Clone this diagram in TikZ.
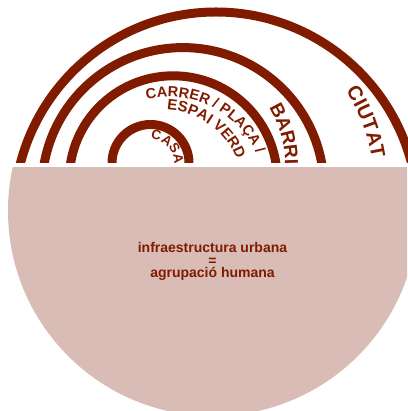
\documentclass[tikz,border=0pt]{standalone}
\usepackage{fontspec}
\setmainfont{Liberation Sans}
\usetikzlibrary{decorations.text}
\definecolor{brick}{RGB}{128,27,0}
\definecolor{rose}{RGB}{217,188,182}
\newcommand{\arcfont}[1]{\fontsize{#1}{#1}\selectfont\bfseries\color{brick}}
\begin{document}
\begin{tikzpicture}[
    x = 1pt, y = 1pt,
    ring/.style     = {draw=brick, line width=9pt},
    ringtext/.style = {decorate, decoration={text along path, text align=center, text={#1}}}
  ]
\useasboundingbox (0,0) rectangle (407,411);
% centres of the rings
\coordinate (cdisc)   at (213,200);
\coordinate (cciutat) at (216,197);
\coordinate (cbarri)  at (183,222.4);
\coordinate (ccarrer) at (173.25,231.2);
\coordinate (ccasa)   at (150.5,248);
% centres of the labels
\coordinate (tciutat) at (200,225);
\coordinate (tbarri)  at (171.3,244.8);
\coordinate (tcarrer) at (168.5,217.9);
\coordinate (tespai)  at (163,221.6);
% lower disc
\begin{scope}
  \clip (0,0) rectangle (407,243);
  \fill[rose] (cdisc) circle[radius=205pt];
\end{scope}
% rings
\begin{scope}
  \clip (0,248) rectangle (420,411);
  \draw[ring] (cciutat) ++(0:202pt) arc[start angle=0, end angle=180, radius=202pt];
  \draw[ring] (cbarri) ++(0:141pt) arc[start angle=0, end angle=180, radius=141pt];
  \draw[ring] (ccarrer) ++(0:104pt) arc[start angle=0, end angle=180, radius=104pt];
  \draw[ring] (ccasa) ++(0:38.5pt) arc[start angle=0, end angle=180, radius=38.5pt];
\end{scope}
% labels along the rings
\path[ringtext={|\arcfont{20}|CIUTAT}] (tciutat) ++(51:174pt) arc[start angle=51, end angle=-9, radius=174pt];
\path[ringtext={|\arcfont{19}|BARRI}] (tbarri) ++(45.8:113.8pt) arc[start angle=45.8, end angle=-14.2, radius=113.8pt];
\path[ringtext={|\arcfont{14.6}|CARRER / PLAÇA /}] (tcarrer) ++(138.5:96.4pt) arc[start angle=138.5, end angle=-11.5, radius=96.4pt];
\path[ringtext={|\arcfont{15}|ESPAI VERD}] (tespai) ++(124.5:79.6pt) arc[start angle=124.5, end angle=-15.5, radius=79.6pt];
\path[ringtext={|\arcfont{13.5}|CASA}] (ccasa) ++(123:23.5pt) arc[start angle=123, end angle=-37, radius=23.5pt];
% text in the disc
\node[brick, font=\fontsize{14pt}{12.5pt}\selectfont\bfseries, align=center, inner sep=0pt] (lema) at (212.5,149.5) {infraestructura urbana\\=\\agrupació humana};
%
\end{tikzpicture}
\end{document}
